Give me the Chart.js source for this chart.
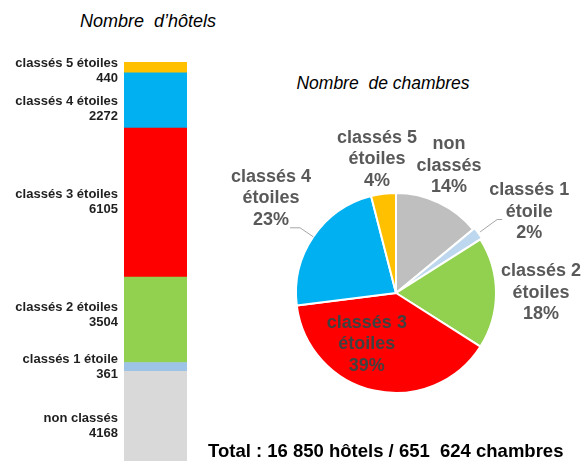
<!DOCTYPE html>
<html lang="fr">
<head>
<meta charset="UTF-8">
<title>Hôtels et chambres classés</title>
<script src="https://cdn.jsdelivr.net/npm/chart.js@4.4.0/dist/chart.umd.min.js"></script>
<style>
    body {
        margin: 0;
        width: 582px;
        height: 461px;
        overflow: hidden;
        position: relative;
        background: #fff;
        font-family: "Liberation Sans", Arial, sans-serif;
    }
    .title {
        position: absolute;
        font-style: italic;
        font-size: 17.5px;
        line-height: 20px;
        white-space: pre;
        color: #000;
        transform: translate(-50%, -50%);
    }
    .total {
        position: absolute;
        left: 208px;
        top: 441px;
        font-weight: bold;
        font-size: 18.5px;
        line-height: 20px;
        white-space: pre;
        color: #000;
    }
    #hotelsChart { position: absolute; left: 0; top: 0; }
    #roomsChart { position: absolute; left: 196px; top: 113px; }
</style>
</head>
<body>
    <div class="title" style="left:148px; top:21px; font-size:18px;">Nombre  d’hôtels</div>
    <div class="title" style="left:383px; top:83px;">Nombre  de chambres</div>
    <canvas id="hotelsChart" width="200" height="480"></canvas>
    <canvas id="roomsChart" width="400" height="360"></canvas>
    <div class="total">Total : 16 850 hôtels / 651  624 chambres</div>

<script>
    // same category order in both charts (bottom of the bar / clockwise from the top of the pie)
    const categories = ['non classés', 'classés 1 étoile', 'classés 2 étoiles', 'classés 3 étoiles', 'classés 4 étoiles', 'classés 5 étoiles'];
    const hotels = [4168, 361, 3504, 6105, 2272, 440];
    const roomShares = [14, 2, 18, 39, 23, 4];

    const barColors = ['#D9D9D9', '#9DC3E6', '#92D050', '#FF0000', '#00B0F0', '#FFC000'];
    const pieColors = ['#BFBFBF', '#BDD7EE', '#92D050', '#FF0000', '#00B0F0', '#FFC000'];

    const totalHotels = hotels.reduce((a, b) => a + b, 0);

    // small vertical shifts of the bar labels, like in the original layout
    const barLabelNudge = [3.5, -0.5, -4.5, -0.5, 8.5, 3.5];

    const barLabels = {
        id: 'barLabels',
        afterDatasetsDraw(chart) {
            const ctx = chart.ctx;
            ctx.save();
            ctx.font = 'bold 13px "Liberation Sans", Arial, sans-serif';
            ctx.fillStyle = '#1f1f1f';
            ctx.textAlign = 'right';
            ctx.textBaseline = 'middle';
            chart.data.datasets.forEach((ds, i) => {
                const bar = chart.getDatasetMeta(i).data[0];
                const mid = (bar.y + bar.base) / 2 + barLabelNudge[i];
                const x = bar.x - bar.width / 2 - 6;
                ctx.fillText(ds.label, x, mid - 7.5);
                ctx.fillText(String(hotels[i]), x, mid + 7.5);
            });
            ctx.restore();
        }
    };

    new Chart(document.getElementById('hotelsChart'), {
        type: 'bar',
        data: {
            labels: [''],
            datasets: categories.map((c, i) => ({
                label: c,
                data: [hotels[i]],
                backgroundColor: barColors[i],
                borderWidth: 0,
                barPercentage: 1,
                categoryPercentage: 1
            }))
        },
        options: {
            responsive: false,
            animation: false,
            layout: { padding: { left: 124, right: 13, top: 62, bottom: 7 } },
            scales: {
                x: { stacked: true, display: false },
                y: { stacked: true, display: false, min: 0, max: totalHotels }
            },
            plugins: { legend: { display: false }, tooltip: { enabled: false } }
        },
        plugins: [barLabels]
    });

    // label placement around the pie: distance (x radius) and angle shift (deg) from the slice middle
    const pieLabelPos = [
        { dist: 1.38, turn: -2.6 },
        { dist: 1.56, turn: 4.7 },
        { dist: 1.45, turn: 0 },
        { dist: 0.59, turn: 17 },
        { dist: 1.57, turn: 3 },
        { dist: 1.35, turn: -0.9 }
    ];
    const pieLeaders = [null, { len: 1.25, tail: 5 }, null, null, { len: 1.16, tail: 10 }, null];

    function labelLines(name, share) {
        const m = name.match(/^(classés \d) (.+)$/);
        const parts = m ? [m[1], m[2]] : name.split(' ');
        return parts.concat(share + '%');
    }

    const pieLabels = {
        id: 'pieLabels',
        afterDatasetsDraw(chart) {
            const ctx = chart.ctx;
            const meta = chart.getDatasetMeta(0);
            ctx.save();
            ctx.font = 'bold 18px "Liberation Sans", Arial, sans-serif';
            ctx.textAlign = 'center';
            ctx.textBaseline = 'middle';
            meta.data.forEach((arc, i) => {
                const p = arc.getProps(['x', 'y', 'startAngle', 'endAngle', 'outerRadius']);
                const mid = (p.startAngle + p.endAngle) / 2;
                const r = p.outerRadius;

                const lead = pieLeaders[i];
                if (lead) {
                    const off = arc.options.offset || 0;
                    const ex = p.x + Math.cos(mid) * (r + off);
                    const ey = p.y + Math.sin(mid) * (r + off);
                    const bx = p.x + Math.cos(mid) * r * lead.len;
                    const by = p.y + Math.sin(mid) * r * lead.len;
                    ctx.strokeStyle = '#A6A6A6';
                    ctx.lineWidth = 1;
                    ctx.beginPath();
                    ctx.moveTo(ex, ey);
                    ctx.lineTo(bx, by);
                    ctx.lineTo(bx + Math.sign(Math.cos(mid)) * lead.tail, by);
                    ctx.stroke();
                }

                const a = mid + pieLabelPos[i].turn * Math.PI / 180;
                const lx = p.x + Math.cos(a) * r * pieLabelPos[i].dist;
                const ly = p.y + Math.sin(a) * r * pieLabelPos[i].dist;
                const lines = labelLines(categories[i], roomShares[i]);
                ctx.fillStyle = pieLabelPos[i].dist < 1 ? '#404040' : '#595959';
                lines.forEach((t, k) => {
                    ctx.fillText(t, lx, ly + (k - (lines.length - 1) / 2) * 21.5);
                });
            });
            ctx.restore();
        }
    };

    new Chart(document.getElementById('roomsChart'), {
        type: 'pie',
        data: {
            labels: categories,
            datasets: [{
                data: roomShares,
                backgroundColor: pieColors,
                borderColor: '#ffffff',
                borderWidth: 2,
                offset: [0, 4, 0, 0, 0, 0],
                radius: 100
            }]
        },
        options: {
            responsive: false,
            animation: false,
            plugins: { legend: { display: false }, tooltip: { enabled: false } }
        },
        plugins: [pieLabels]
    });
</script>
</body>
</html>
